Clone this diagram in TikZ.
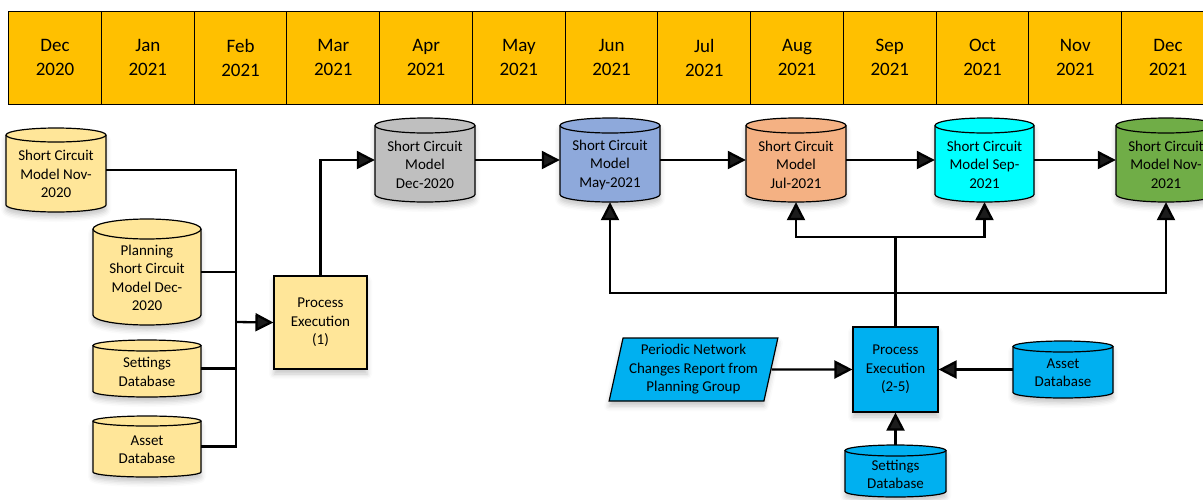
\documentclass[tikz,border=0pt]{standalone}
\usepackage{fontspec}
\setmainfont{Carlito}
\usetikzlibrary{arrows.meta,shapes.geometric,shadows.blur}

\definecolor{monthfill}{HTML}{FFC000}
\definecolor{lightyellow}{HTML}{FFE699}
\definecolor{cylgray}{HTML}{BFBFBF}
\definecolor{cylblue}{HTML}{8EA9DB}
\definecolor{cylorange}{HTML}{F4B183}
\definecolor{cylcyan}{HTML}{00FFFF}
\definecolor{cylgreen}{HTML}{70AD47}
\definecolor{procblue}{HTML}{00B0F0}

\tikzset{
  flow/.style={line width=2.3pt, -{Triangle[length=18pt,width=18pt]}},
  wire/.style={line width=2.3pt},
  softshadow/.style={blur shadow={shadow xshift=0pt,shadow yshift=-5pt,shadow blur radius=5pt,shadow opacity=22}},
  month/.style={draw, line width=1pt, fill=monthfill, minimum width=92.75pt,
    minimum height=92.3pt, inner sep=0pt, align=center,
    font=\fontsize{19}{24}\selectfont},
  procbox/.style={draw, line width=1.2pt, inner sep=0pt, align=center,
    font=\fontsize{15}{18.5}\selectfont, softshadow},
  cyltext/.style={align=center, inner sep=0pt, font=\fontsize{15}{18.5}\selectfont},
}

% database cylinder: name, left, top, right, bottom, ellipse half-height, fill, text
\newcommand\dbcylinder[8]{%
  \pgfmathsetmacro\cylcx{(#2+#4)/2}%
  \pgfmathsetmacro\cylrx{(#4-#2)/2}%
  \pgfmathsetmacro\cylcy{(#3+#5)/2}%
  \pgfmathsetmacro\cylw{#4-#2}%
  \pgfmathsetmacro\cylh{#5-#3}%
  \pgfmathsetmacro\cylty{#3+#6}%
  \pgfmathsetmacro\cylby{#5-#6}%
  \pgfmathsetmacro\cyltxt{\cylcy+0.6*#6}%
  \fill[#7, softshadow] (#2,\cylty) -- (#2,\cylby)
    arc[start angle=180,end angle=360,x radius=\cylrx pt,y radius=#6pt]
    -- (#4,\cylty)
    arc[start angle=0,end angle=180,x radius=\cylrx pt,y radius=#6pt] -- cycle;
  \draw[line width=1.2pt] (#2,\cylty) -- (#2,\cylby)
    arc[start angle=180,end angle=360,x radius=\cylrx pt,y radius=#6pt]
    -- (#4,\cylty);
  \draw[line width=1.2pt] (\cylcx,\cylty) ellipse[x radius=\cylrx pt, y radius=#6pt];
  \node[inner sep=0pt, minimum width=\cylw pt, minimum height=\cylh pt] (#1) at (\cylcx,\cylcy) {};
  \node[cyltext] (#1-text) at (\cylcx,\cyltxt) {#8};
}

\begin{document}
\begin{tikzpicture}[x=1pt,y=-1pt]
\useasboundingbox (0,0) rectangle (1203,499);

% month timeline
\foreach \m/\yr [count=\i from 0] in {Dec/2020,Jan/2021,Feb/2021,Mar/2021,Apr/2021,May/2021,Jun/2021,Jul/2021,Aug/2021,Sep/2021,Oct/2021,Nov/2021,Dec/2021}
  \node[month] (t\i) at ({8.7+92.75*\i+46.375},57.85) {\m\\\yr};

% inputs of the first run
\dbcylinder{scnov20}{6}{128}{106}{212}{7}{lightyellow}{Short Circuit\\Model Nov-\\2020}
\dbcylinder{planning}{93}{219}{201}{325}{10}{lightyellow}{Planning\\Short Circuit\\Model Dec-\\2020}
\dbcylinder{setA}{93}{340}{201}{397}{5.5}{lightyellow}{Settings\\Database}
\dbcylinder{assetA}{93}{416}{201}{477}{5}{lightyellow}{Asset\\Database}

\node[procbox, fill=lightyellow, minimum width=93pt, minimum height=93pt] (proc1) at (320.5,322.5) {Process\\Execution\\(1)};

% model versions
\dbcylinder{gray}{375}{118}{475}{202}{7.5}{cylgray}{Short Circuit\\Model\\Dec-2020}
\dbcylinder{may}{560}{118}{660}{202}{7.5}{cylblue}{Short Circuit\\Model\\May-2021}
\dbcylinder{jul}{746}{118}{846}{202}{7.5}{cylorange}{Short Circuit\\Model\\Jul-2021}
\dbcylinder{sep}{935}{118}{1034}{202}{7.5}{cylcyan}{Short Circuit\\Model Sep-\\2021}
\dbcylinder{nov21}{1116}{118}{1216}{202}{7.5}{cylgreen}{Short Circuit\\Model Nov-\\2021}

% periodic runs
\node[procbox, fill=procblue, minimum width=85pt, minimum height=85pt] (proc2) at (895.5,369.5) {Process\\Execution\\(2-5)};
\node[trapezium, trapezium stretches=true, trapezium left angle=75.7, trapezium right angle=104.3,
  draw, line width=1.2pt, fill=procblue, minimum width=169pt, minimum height=63pt, inner sep=0pt,
  align=center, font=\fontsize{15}{18.5}\selectfont, softshadow] (report) at (693.5,369.5)
  {Periodic Network\\Changes Report from\\Planning Group};
\dbcylinder{assetB}{1013}{341}{1113}{398}{5.5}{procblue}{Asset\\Database}
\dbcylinder{setB}{845}{445}{946}{497}{5.5}{procblue}{Settings\\Database}

% connectors of the first run
\coordinate (busL) at (236,322);
\draw[wire] (scnov20.east) -| (busL |- assetA.east) -- (assetA.east);
\draw[wire] (planning.east) -- (planning.east -| busL);
\draw[wire] (setA.east) -- (setA.east -| busL);
\draw[flow] (busL) -- (proc1.west);
\draw[flow] (proc1.north) |- (gray.west);

% model chain
\draw[flow] (gray.east) -- (may.west);
\draw[flow] (may.east) -- (jul.west);
\draw[flow] (jul.east) -- (sep.west);
\draw[flow] (sep.east) -- (nov21.west);

% connectors of the periodic runs
\draw[flow] (report.east) -- (proc2.west);
\draw[flow] (assetB.west) -- (proc2.east);
\draw[flow] (setB.north) -- (proc2.south);
\coordinate (hubtop) at (895.5,237);
\coordinate (hublow) at (895.5,293);
\draw[wire] (proc2.north) -- (hubtop);
\draw[flow] (hubtop) -| (jul.south);
\draw[flow] (hubtop) -| (sep.south);
\draw[flow] (hublow) -| (may.south);
\draw[flow] (hublow) -| (nov21.south);
\end{tikzpicture}
\end{document}
